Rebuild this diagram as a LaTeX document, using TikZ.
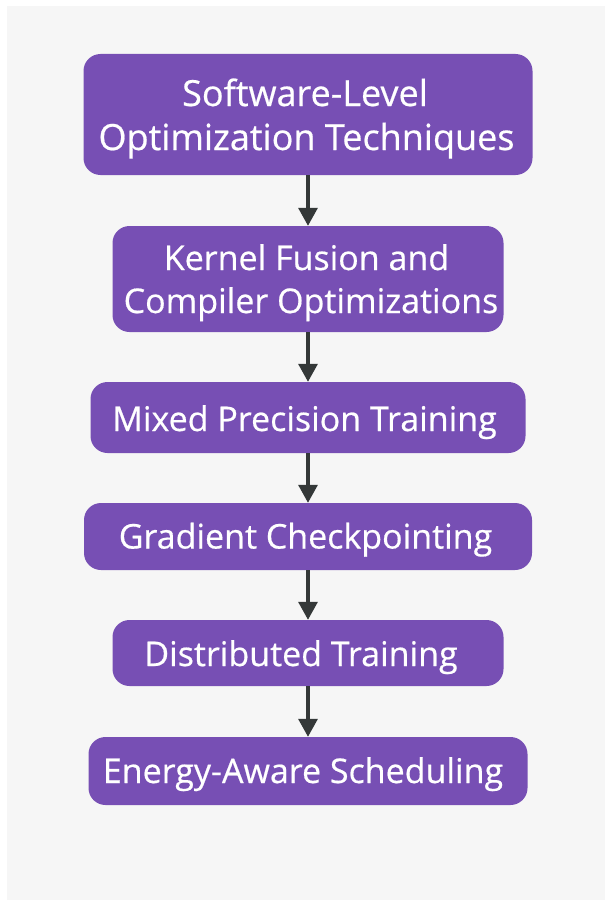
\documentclass[tikz,border=0pt]{standalone}
\usepackage{fontspec}
\setmainfont{Open Sans}[FakeBold=0.5]
\usetikzlibrary{arrows.meta}
\definecolor{boxpurple}{RGB}{119,79,180}
\definecolor{bggray}{RGB}{246,246,246}
\definecolor{arrowgray}{RGB}{52,56,56}
\begin{document}
\begin{tikzpicture}[x=1pt,y=-1pt,
  stage/.style={fill=boxpurple, rounded corners=17pt, inner sep=0pt},
  label/.style={text=white, inner sep=0pt, anchor=base, font=\fontsize{34}{40}\selectfont},
  biglabel/.style={label, font=\fontsize{36}{42}\selectfont},
  flow/.style={draw=arrowgray, line width=3.2pt, -{Triangle[length=18pt,width=19pt]}}]
\useasboundingbox (0,0) rectangle (605,907);
\fill[bggray] (7,6) rectangle (605,900);
% boxes
\node[stage, minimum width=449pt, minimum height=121pt] (s1) at (308,114.5) {};
\node[stage, minimum width=391pt, minimum height=106pt] (s2) at (308,279) {};
\node[stage, minimum width=435pt, minimum height=71pt] (s3) at (308,417.5) {};
\node[stage, minimum width=448pt, minimum height=67pt] (s4) at (308,536.5) {};
\node[stage, minimum width=391pt, minimum height=66pt] (s5) at (308,653) {};
\node[stage, minimum width=439pt, minimum height=68pt] (s6) at (308,771) {};
% texts
\node[biglabel] (t1a) at (305,106) {Software-Level};
\node[biglabel] (t1b) at (306.5,150) {Optimization Techniques};
\node[label] (t2a) at (306.5,270) {Kernel Fusion and};
\node[label] (t2b) at (311,313) {Compiler Optimizations};
\node[label] (t3) at (304.5,431) {Mixed Precision Training};
\node[label] (t4) at (305.5,548.5) {Gradient Checkpointing};
\node[label] (t5) at (301,666) {Distributed Training};
\node[label] (t6) at (303,783) {Energy-Aware Scheduling};
% connectors
\draw[flow] (s1) -- (s2);
\draw[flow] (s2) -- (s3);
\draw[flow] (s3) -- (s4);
\draw[flow] (s4) -- (s5);
\draw[flow] (s5) -- (s6);
\end{tikzpicture}
\end{document}
